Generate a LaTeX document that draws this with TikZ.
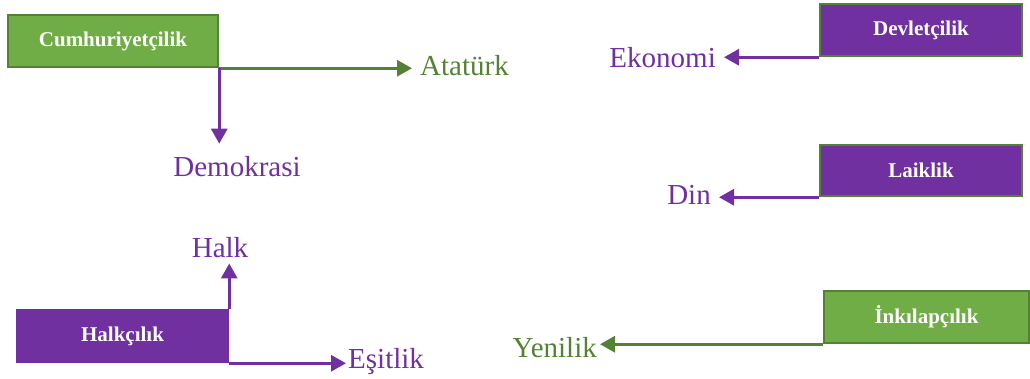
\documentclass[tikz,border=0pt]{standalone}
\usepackage{fontspec}
\setmainfont{Liberation Serif}
\usetikzlibrary{arrows.meta}
\definecolor{lgreen}{HTML}{70AD47}
\definecolor{dgreen}{HTML}{548235}
\definecolor{purp}{HTML}{7030A0}
\tikzset{
  box/.style={rectangle, line width=2.5pt, text=white, font=\fontsize{21}{24}\selectfont\bfseries, inner sep=0pt},
  gbox/.style={box, fill=lgreen, draw=dgreen},
  pbox/.style={box, fill=purp, draw=dgreen},
  lbl/.style={inner sep=0pt, font=\fontsize{29}{32}\selectfont},
  conn/.style={line width=3pt, -{Triangle[length=15pt,width=16pt]}},
}
\begin{document}
\begin{tikzpicture}[x=1pt,y=-1pt]
\useasboundingbox (0,0) rectangle (1030,379);
% boxes
\node[gbox, minimum width=210pt, minimum height=52pt] (cum) at (113,41) {Cumhuriyetçilik};
\node[pbox, minimum width=202pt, minimum height=52pt] (dev) at (921,30) {Devletçilik};
\node[pbox, minimum width=202pt, minimum height=51pt] (lai) at (921,170.5) {Laiklik};
\node[box, fill=purp, draw=purp, minimum width=211pt, minimum height=52pt] (hb) at (122.5,336) {Halkçılık};
\node[gbox, minimum width=205pt, minimum height=52pt] (ink) at (926.5,317) {İnkılapçılık};
% labels
\node[lbl, text=dgreen, anchor=base west] (ata) at (420,76) {Atatürk};
\node[lbl, text=purp, anchor=base] (demo) at (237,177) {Demokrasi};
\node[lbl, text=purp, anchor=base east] (eko) at (716,68) {Ekonomi};
\node[lbl, text=purp, anchor=base east] (din) at (711,205) {Din};
\node[lbl, text=purp, anchor=base] (halk) at (220,258) {Halk};
\node[lbl, text=purp, anchor=base west] (esit) at (348,368) {Eşitlik};
\node[lbl, text=dgreen, anchor=base east] (yen) at (597,357) {Yenilik};
% connectors
\draw[conn, dgreen, shorten >=8pt] (cum.south east) -- (cum.south east -| ata.west);
\draw[conn, purp, shorten >=13pt] (cum.south east) -- (cum.south east |- demo.north);
\draw[conn, purp, shorten >=8pt] (dev.south west) -- (dev.south west -| eko.east);
\draw[conn, purp, shorten >=8pt] (lai.south west) -- (lai.south west -| din.east);
\draw[conn, purp, shorten >=5pt] (hb.north east) -- (hb.north east |- halk.south);
\draw[conn, purp, shorten >=2pt] (hb.south east) -- (hb.south east -| esit.west);
\draw[conn, dgreen, shorten >=3pt] (ink.south west) -- (ink.south west -| yen.east);
\end{tikzpicture}
\end{document}
